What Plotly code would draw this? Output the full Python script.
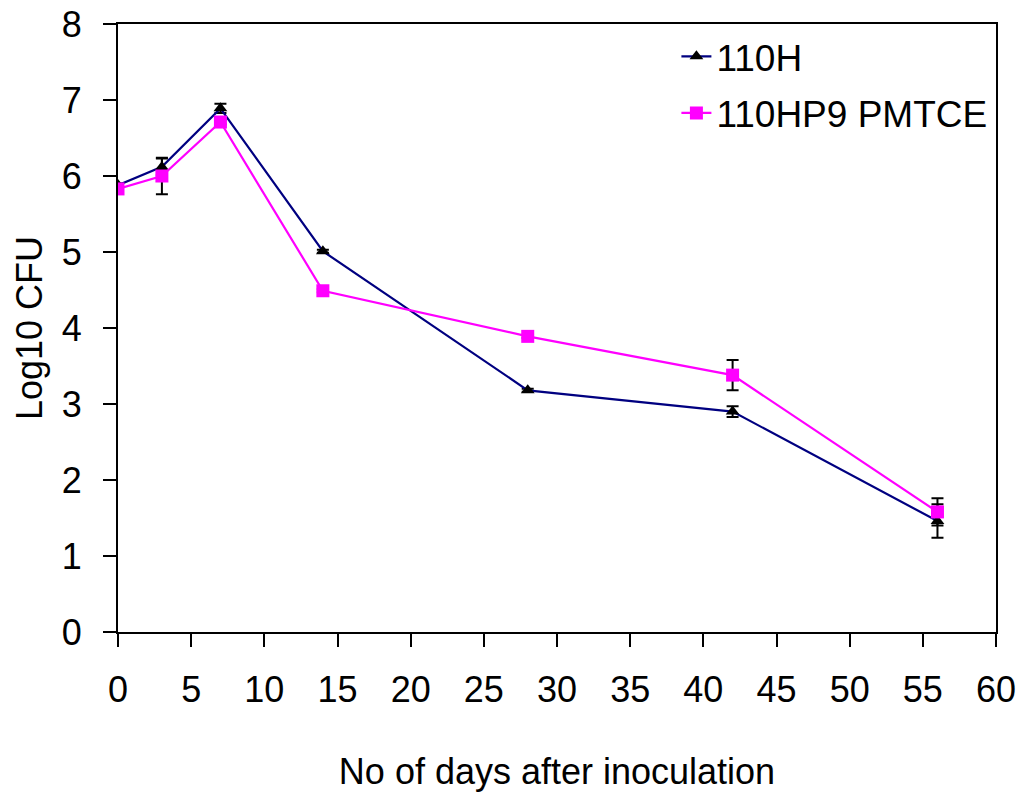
import plotly.graph_objects as go

days = [0, 3, 7, 14, 28, 42, 56]
h110 = [5.88, 6.12, 6.89, 5.01, 3.18, 2.90, 1.46]
h110_err = [0.02, 0.11, 0.06, 0.02, 0.02, 0.07, 0.22]
hp9 = [5.83, 6.00, 6.71, 4.49, 3.89, 3.38, 1.58]
hp9_err = [0.02, 0.24, 0.03, 0.02, 0.02, 0.20, 0.18]

FONT = "Liberation Sans, Arial, sans-serif"

fig = go.Figure()
fig.add_trace(go.Scatter(
    x=days, y=h110, name="110H", mode="lines+markers", legend="legend",
    line=dict(color="#000080", width=2.2),
    marker=dict(symbol="triangle-up", size=12, color="black"),
    error_y=dict(type="data", array=h110_err, visible=True, color="black", thickness=2, width=6),
))
fig.add_trace(go.Scatter(
    x=days, y=hp9, name="110HP9 PMTCE", mode="lines+markers", legend="legend2",
    line=dict(color="#FF00FF", width=2.2),
    marker=dict(symbol="square", size=13, color="#FF00FF"),
    error_y=dict(type="data", array=hp9_err, visible=True, color="black", thickness=2, width=6),
))

fig.update_layout(
    width=1024, height=796,
    margin=dict(l=118, r=28, t=24, b=164, autoexpand=False),
    paper_bgcolor="white", plot_bgcolor="white",
    font=dict(family=FONT, size=36, color="black"),
    showlegend=True,
    legend=dict(x=0.636, y=0.997, xanchor="left", yanchor="top",
                font=dict(size=37), bgcolor="rgba(0,0,0,0)"),
    legend2=dict(x=0.636, y=0.904, xanchor="left", yanchor="top",
                 font=dict(size=37), bgcolor="rgba(0,0,0,0)"),
    xaxis=dict(range=[0, 60], dtick=5, tick0=0, showline=True, linecolor="black", linewidth=2,
               mirror=True, ticks="outside", ticklen=13, tickwidth=2, tickcolor="black",
               showgrid=False, zeroline=False, ticklabelstandoff=12, automargin=False,
               title=dict(text="No of days after inoculation", font=dict(size=36), standoff=50)),
    yaxis=dict(range=[0, 8], dtick=1, tick0=0, showline=True, linecolor="black", linewidth=2,
               mirror=True, ticks="outside", ticklen=13, tickwidth=2, tickcolor="black",
               showgrid=False, zeroline=False, ticklabelstandoff=14, automargin=False,
               title=dict(text="Log10 CFU", font=dict(size=36), standoff=8)),
)

fig.write_html("out.html")
